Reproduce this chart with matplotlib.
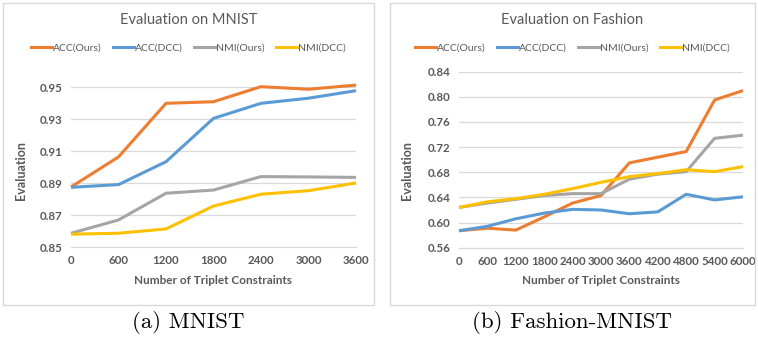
import matplotlib
matplotlib.use("Agg")
import matplotlib.pyplot as plt
from matplotlib.patches import Rectangle
from matplotlib.lines import Line2D

# MNIST panel data
mnist_x = [0, 600, 1200, 1800, 2400, 3000, 3600]
mnist_acc_ours = [0.8875, 0.9063, 0.9398, 0.9408, 0.9502, 0.9486, 0.9512]
mnist_acc_dcc = [0.8873, 0.8890, 0.9033, 0.9304, 0.9398, 0.9430, 0.9477]
mnist_nmi_ours = [0.8586, 0.8669, 0.8836, 0.8856, 0.8940, 0.8938, 0.8935]
mnist_nmi_dcc = [0.8580, 0.8586, 0.8613, 0.8756, 0.8830, 0.8852, 0.8900]
mnist_yticks = [0.85, 0.87, 0.89, 0.91, 0.93, 0.95]

# Fashion-MNIST panel data
fashion_x = [0, 600, 1200, 1800, 2400, 3000, 3600, 4200, 4800, 5400, 6000]
fashion_acc_ours = [0.587, 0.591, 0.588, 0.609, 0.631, 0.643, 0.695, 0.704, 0.713, 0.795, 0.810]
fashion_acc_dcc = [0.587, 0.594, 0.606, 0.615, 0.621, 0.620, 0.614, 0.617, 0.645, 0.636, 0.641]
fashion_nmi_ours = [0.624, 0.631, 0.637, 0.643, 0.646, 0.646, 0.669, 0.677, 0.681, 0.734, 0.739]
fashion_nmi_dcc = [0.624, 0.633, 0.638, 0.645, 0.654, 0.664, 0.673, 0.678, 0.684, 0.681, 0.689]
fashion_yticks = [0.56, 0.60, 0.64, 0.68, 0.72, 0.76, 0.80, 0.84]

labels = ["ACC(Ours)", "ACC(DCC)", "NMI(Ours)", "NMI(DCC)"]
colors = ["#ED7D31", "#5B9BD5", "#A5A5A5", "#FFC000"]
text_color = "#595959"

plt.rcParams['font.family'] = ['Lato', 'DejaVu Sans']

W, H = 758, 342
fig = plt.figure(figsize=(W / 100, H / 100), dpi=100)


def px(x0, y0, x1, y1):
    """pixel box (top-left origin) -> figure rect"""
    return [x0 / W, 1 - y1 / H, (x1 - x0) / W, (y1 - y0) / H]


def draw_panel(rect, frame, xs, series, yticks, title, caption, legend_y, ylabel_x):
    # light frame around the whole Excel chart
    fx0, fy0, fx1, fy1 = frame
    fig.patches.append(Rectangle((fx0 / W, 1 - fy1 / H), (fx1 - fx0) / W, (fy1 - fy0) / H,
                                 transform=fig.transFigure, fill=False,
                                 edgecolor="#D9D9D9", linewidth=1))
    ax = fig.add_axes(rect)
    for ys, c, lab in zip(series, colors, labels):
        ax.plot(xs, ys, color=c, linewidth=2.2, label=lab, clip_on=False,
                solid_capstyle="butt")
    ax.set_xlim(xs[0], xs[-1])
    ax.set_ylim(yticks[0], yticks[-1])
    ax.set_xticks(xs)
    ax.set_yticks(yticks)
    ax.set_yticklabels([f"{t:.2f}" for t in yticks])
    ax.grid(axis="y", color="#D9D9D9", linewidth=0.9)
    ax.set_axisbelow(True)
    for s in ["top", "right", "left"]:
        ax.spines[s].set_visible(False)
    ax.spines["bottom"].set_color("#D9D9D9")
    ax.tick_params(length=0, labelsize=8.3, labelcolor=text_color, pad=6)
    for t in ax.get_xticklabels() + ax.get_yticklabels():
        t.set_fontweight("bold")
    ax.set_xlabel("Number of Triplet Constraints", fontsize=8.5, fontweight="bold",
                  color=text_color, labelpad=6)
    ax.set_ylabel("Evaluation", fontsize=9, fontweight="bold", color=text_color)
    ax.yaxis.set_label_coords(ylabel_x, 0.5, transform=fig.transFigure)

    cx = (fx0 + fx1) / 2 / W
    fig.text(cx, 1 - 20 / H, title, ha="center", va="center", fontsize=10.5,
             color=text_color)
    handles = [Line2D([], [], color=c, linewidth=2.2) for c in colors]
    fig.legend(handles, labels, loc="center", bbox_to_anchor=(cx, 1 - legend_y / H),
               ncol=4, frameon=False, fontsize=7.5, handlelength=2.0,
               handletextpad=0.1, columnspacing=1.1, labelcolor=text_color)
    fig.text(cx, 1 - 322 / H, caption, ha="center", va="center", fontsize=16.5,
             family=["cmr10", "DejaVu Serif"])
    return ax


draw_panel(px(71, 87, 356, 247), (3, 3, 374, 305), mnist_x,
           [mnist_acc_ours, mnist_acc_dcc, mnist_nmi_ours, mnist_nmi_dcc],
           mnist_yticks, "Evaluation on MNIST", "(a) MNIST", 48, 27 / W)

draw_panel(px(459, 71.7, 743, 247.7), (390, 3, 755, 305), fashion_x,
           [fashion_acc_ours, fashion_acc_dcc, fashion_nmi_ours, fashion_nmi_dcc],
           fashion_yticks, "Evaluation on Fashion", "(b) Fashion-MNIST", 48, 413 / W)

fig.savefig("out.png", dpi=100)
